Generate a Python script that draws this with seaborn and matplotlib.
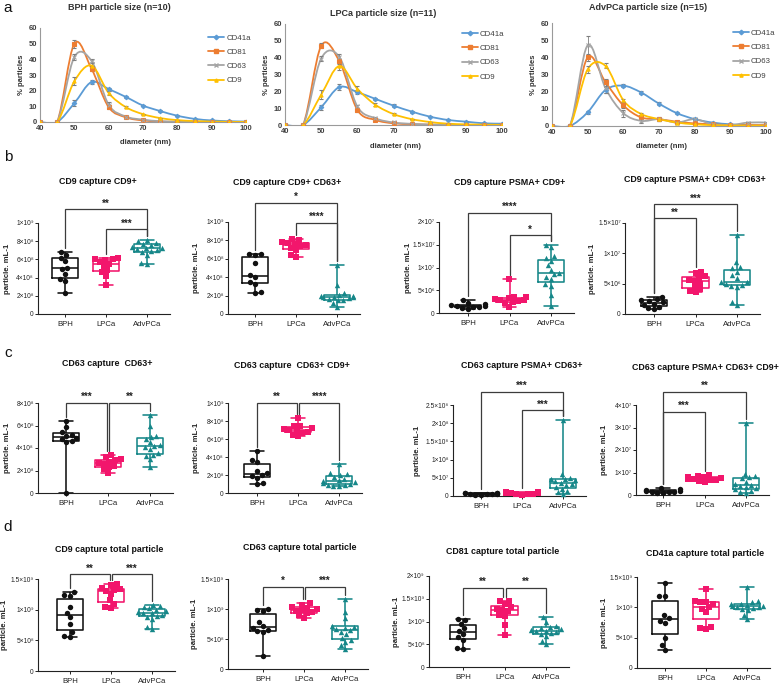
import numpy as np
import pandas as pd
import matplotlib
matplotlib.use("Agg")
import matplotlib.pyplot as plt
import seaborn as sns
from matplotlib.path import Path
from matplotlib.patches import PathPatch
from matplotlib.lines import Line2D

# ------------------------------------------------------------------ data: panel a
diameter = [40, 45, 50, 55, 60, 65, 70, 75, 80, 85, 90, 95, 100]
markers_names = ["CD41a", "CD81", "CD63", "CD9"]

bph_cd41a = [0, 0, 12, 25.5, 21, 16, 10.5, 7, 4, 2, 1, 0.5, 0.3]
bph_cd81 = [0, 0, 50, 34, 9.5, 3, 1, 0.3, 0.1, 0, 0, 0, 0]
bph_cd63 = [0, 0, 41.5, 39, 11, 3.5, 1.5, 0.5, 0.2, 0, 0, 0, 0]
bph_cd9 = [0, 0, 26, 36, 18.5, 9.5, 5, 2.5, 1.2, 0.6, 0.3, 0.1, 0]
bph_err41a = [0, 0, 2, 1.5, 1, 0.8, 0.6, 0.4, 0.3, 0.2, 0.1, 0, 0]
bph_err81 = [0, 0, 2.5, 1.5, 1, 0.5, 0.3, 0, 0, 0, 0, 0, 0]
bph_err63 = [0, 0, 2, 1.5, 1.5, 0.5, 0.3, 0, 0, 0, 0, 0, 0]
bph_err9 = [0, 0, 2.5, 2, 1, 0.8, 0.4, 0.3, 0, 0, 0, 0, 0]

lpca_cd41a = [0, 0, 10.5, 22.5, 19.5, 15.5, 11.5, 8, 5, 3, 2, 1, 0.8]
lpca_cd81 = [0, 0, 47, 38, 9, 3, 1, 0.5, 0.2, 0.1, 0, 0, 0]
lpca_cd63 = [0, 0, 39.5, 40.5, 11, 4, 1.5, 0.7, 0.3, 0.1, 0, 0, 0]
lpca_cd9 = [0, 0, 18, 35, 21.5, 12, 6.5, 3.5, 1.8, 0.8, 0.4, 0.2, 0.1]
lpca_err41a = [0, 0, 1.5, 2, 1, 0.8, 0.8, 0.6, 0.4, 0.3, 0.2, 0, 0]
lpca_err81 = [0, 0, 1.5, 1.5, 1, 0.5, 0.3, 0, 0, 0, 0, 0, 0]
lpca_err63 = [0, 0, 1.5, 1.5, 1, 0.5, 0.3, 0, 0, 0, 0, 0, 0]
lpca_err9 = [0, 0, 2.5, 2.5, 1.5, 1, 0.6, 0.3, 0, 0, 0, 0, 0]

adv_cd41a = [0, 0, 8, 21, 23.5, 19.5, 13, 7.5, 4, 2, 1, 0.5, 0.3]
adv_cd81 = [0, 0, 40, 25.5, 12, 5, 4, 2.5, 1.5, 1, 0.5, 0.5, 0.5]
adv_cd63 = [0, 0, 47, 22, 7.5, 3, 4, 2, 4, 1, 0.5, 2, 2]
adv_cd9 = [0, 0, 33, 35, 15, 7, 4, 2, 1, 0.5, 0.3, 0.2, 0.2]
adv_err41a = [0, 0, 1, 1.5, 1, 0.8, 0.7, 0.5, 0.4, 0.3, 0.2, 0, 0]
adv_err81 = [0, 0, 2, 2, 1.5, 1, 0.8, 0.5, 0.3, 0, 0, 0, 0]
adv_err63 = [0, 0, 5.5, 3, 2, 1, 1, 0.5, 0.5, 0.3, 0.2, 0.5, 0.5]
adv_err9 = [0, 0, 2, 1.5, 1, 0.8, 0.5, 0.3, 0, 0, 0, 0, 0]

a_titles = ["BPH particle size (n=10)", "LPCa particle size (n=11)", "AdvPCa particle size (n=15)"]

# ------------------------------------------------------------------ data: panels b-d
groups = ["BPH", "LPCa", "AdvPCa"]

b1_unit = 1e8
b1_bph = [2.3, 3.6, 3.8, 4.4, 4.9, 5.1, 5.8, 6.2, 6.5, 6.8]
b1_lpca = [3.2, 4.2, 4.6, 4.8, 5.3, 5.5, 5.7, 5.9, 6.0, 6.0, 6.1]
b1_adv = [5.5, 5.6, 6.5, 6.8, 6.9, 7.0, 7.1, 7.2, 7.3, 7.4, 7.6, 7.7, 7.8, 8.0, 8.1]

b2_unit = 1e8
b2_bph = [2.3, 2.4, 3.3, 3.5, 4.0, 4.2, 5.5, 6.4, 6.5, 6.5]
b2_lpca = [6.2, 6.4, 7.0, 7.2, 7.4, 7.5, 7.6, 7.7, 7.8, 8.0, 8.1]
b2_adv = [0.8, 1.2, 1.5, 1.5, 1.6, 1.7, 1.8, 1.8, 1.9, 2.0, 2.0, 2.1, 2.3, 3.1, 5.3]

b3_unit = 1e6
b3_bph = [0.9, 1.1, 1.3, 1.4, 1.5, 1.6, 1.7, 1.9, 2.3, 2.8]
b3_lpca = [1.4, 2.2, 2.4, 2.6, 2.8, 2.9, 3.0, 3.3, 3.5, 3.6, 7.5]
b3_adv = [1.5, 4.0, 6.0, 6.3, 7.5, 8.0, 8.5, 8.9, 9.5, 10.5, 11.5, 12.0, 12.5, 14.5, 15.0]

b4_unit = 1e6
b4_bph = [0.8, 1.0, 1.2, 1.5, 1.7, 1.9, 2.1, 2.3, 2.5, 2.8]
b4_lpca = [3.6, 3.8, 4.1, 4.5, 5.0, 5.4, 5.6, 6.0, 6.2, 6.7, 7.0]
b4_adv = [1.5, 1.9, 4.5, 4.6, 4.8, 5.0, 5.2, 5.3, 6.0, 6.5, 7.0, 7.5, 7.8, 8.5, 13.0]

c1_unit = 1e8
c1_bph = [0.0, 4.5, 4.6, 4.8, 4.9, 5.1, 5.2, 5.4, 5.9, 6.4]
c1_lpca = [1.8, 2.1, 2.3, 2.4, 2.6, 2.7, 2.8, 2.9, 3.0, 3.2, 3.4]
c1_adv = [2.3, 3.0, 3.3, 3.4, 3.6, 3.9, 4.1, 4.2, 4.3, 4.5, 4.8, 5.0, 5.1, 6.0, 6.9]

c2_unit = 1e8
c2_bph = [1.0, 1.1, 1.7, 1.9, 2.0, 2.2, 2.4, 3.5, 3.7, 4.7]
c2_lpca = [6.3, 6.5, 6.7, 6.8, 6.9, 7.0, 7.1, 7.2, 7.4, 7.5, 8.3]
c2_adv = [0.8, 0.8, 0.9, 0.9, 1.0, 1.1, 1.2, 1.3, 1.4, 1.6, 1.8, 2.0, 2.1, 2.2, 3.2]

c3_unit = 1e7
c3_bph = [0.3, 0.4, 0.5, 0.5, 0.6, 0.6, 0.7, 0.7, 0.8, 0.9]
c3_lpca = [0.4, 0.5, 0.6, 0.6, 0.7, 0.7, 0.8, 0.8, 0.9, 1.0, 1.1]
c3_adv = [0.5, 1.0, 1.5, 2.0, 2.5, 3.0, 3.3, 3.6, 4.0, 4.4, 4.7, 4.8, 5.0, 6.0, 20.8]

c4_unit = 1e6
c4_bph = [0.8, 1.0, 1.2, 1.4, 1.5, 1.7, 1.9, 2.2, 2.6, 3.0]
c4_lpca = [5.8, 6.2, 6.5, 6.8, 7.0, 7.2, 7.5, 7.8, 8.2, 8.6, 9.0]
c4_adv = [1.0, 1.5, 2.0, 2.5, 3.0, 3.5, 4.0, 4.5, 5.0, 6.0, 7.5, 8.0, 8.5, 9.5, 32.0]

d1_unit = 1e9
d1_bph = [0.55, 0.57, 0.63, 0.76, 0.88, 0.95, 1.05, 1.22, 1.24, 1.28]
d1_lpca = [1.03, 1.05, 1.10, 1.15, 1.25, 1.30, 1.32, 1.33, 1.35, 1.40, 1.42]
d1_adv = [0.68, 0.72, 0.85, 0.88, 0.90, 0.92, 0.94, 0.95, 0.96, 0.98, 1.00, 1.02, 1.04, 1.06, 1.08]

d2_unit = 1e9
d2_bph = [0.22, 0.62, 0.63, 0.65, 0.68, 0.72, 0.78, 0.97, 0.99, 1.00]
d2_lpca = [0.85, 0.90, 0.93, 0.95, 0.97, 0.98, 1.00, 1.02, 1.04, 1.07, 1.10]
d2_adv = [0.34, 0.40, 0.45, 0.48, 0.52, 0.58, 0.62, 0.65, 0.67, 0.69, 0.70, 0.72, 0.85, 0.95, 1.16]

d3_unit = 1e9
d3_bph = [0.40, 0.42, 0.60, 0.65, 0.72, 0.80, 0.85, 0.95, 1.03, 1.05]
d3_lpca = [0.70, 0.93, 1.12, 1.15, 1.22, 1.25, 1.28, 1.32, 1.38, 1.44, 1.45]
d3_adv = [0.50, 0.58, 0.68, 0.72, 0.74, 0.77, 0.79, 0.80, 0.82, 0.84, 0.86, 0.88, 0.90, 1.00, 1.10]

d4_unit = 1e9
d4_bph = [0.30, 0.38, 0.50, 0.75, 0.78, 0.82, 0.88, 1.18, 1.19, 1.40]
d4_lpca = [0.65, 0.66, 0.68, 0.92, 0.98, 1.00, 1.05, 1.08, 1.09, 1.10, 1.30]
d4_adv = [0.80, 0.88, 0.95, 0.97, 0.99, 1.00, 1.01, 1.02, 1.03, 1.04, 1.05, 1.06, 1.08, 1.10, 1.34]

box_titles = {
    "b1": "CD9 capture CD9+", "b2": "CD9 capture CD9+ CD63+",
    "b3": "CD9 capture PSMA+ CD9+", "b4": "CD9 capture PSMA+ CD9+ CD63+",
    "c1": "CD63 capture  CD63+", "c2": "CD63 capture  CD63+ CD9+",
    "c3": "CD63 capture PSMA+ CD63+", "c4": "CD63 capture PSMA+ CD63+ CD9+",
    "d1": "CD9 capture total particle", "d2": "CD63 capture total particle",
    "d3": "CD81 capture total particle", "d4": "CD41a capture total particle",
}
b1_ticks = [0, 2e8, 4e8, 6e8, 8e8, 1e9]
b2_ticks = [0, 2e8, 4e8, 6e8, 8e8, 1e9]
b3_ticks = [0, 5e6, 1e7, 1.5e7, 2e7]
b4_ticks = [0, 5e6, 1e7, 1.5e7]
c1_ticks = [0, 2e8, 4e8, 6e8, 8e8]
c2_ticks = [0, 2e8, 4e8, 6e8, 8e8, 1e9]
c3_ticks = [0, 5e7, 1e8, 1.5e8, 2e8, 2.5e8]
c4_ticks = [0, 1e7, 2e7, 3e7, 4e7]
d1_ticks = [0, 5e8, 1e9, 1.5e9]
d2_ticks = [0, 5e8, 1e9, 1.5e9]
d3_ticks = [0, 5e8, 1e9, 1.5e9, 2e9]
d4_ticks = [0, 5e8, 1e9, 1.5e9]

# significance brackets: (group i, group j, height, label)
b1_sig = [(0, 2, 1.15e9, "**"), (1, 2, 0.93e9, "***")]
b2_sig = [(0, 2, 1.21e9, "*"), (1, 2, 0.99e9, "****")]
b3_sig = [(0, 2, 2.2e7, "****"), (1, 2, 1.71e7, "*")]
b4_sig = [(0, 1, 1.58e7, "**"), (0, 2, 1.81e7, "***")]
c1_sig = [(0, 1, 8.0e8, "***"), (1, 2, 8.0e8, "**")]
c2_sig = [(0, 1, 1.0e9, "**"), (1, 2, 1.0e9, "****")]
c3_sig = [(0, 2, 2.86e8, "***"), (1, 2, 2.36e8, "***")]
c4_sig = [(0, 2, 4.58e7, "**"), (0, 1, 3.69e7, "***")]
d1_sig = [(0, 1, 1.58e9, "**"), (1, 2, 1.58e9, "***")]
d2_sig = [(0, 1, 1.37e9, "*"), (1, 2, 1.37e9, "***")]
d3_sig = [(0, 1, 1.74e9, "**"), (1, 2, 1.74e9, "**")]
d4_sig = []

# ------------------------------------------------------------------ style
sns.set_theme(style="white")
plt.rcParams["font.family"] = ["Liberation Sans", "DejaVu Sans"]
plt.rcParams["axes.unicode_minus"] = False

W, H = 780, 685
fig = plt.figure(figsize=(W / 100, H / 100), dpi=100)
fig.patch.set_facecolor("white")

def px_axes(left, zero, right, top):
    return fig.add_axes([left / W, (H - zero) / H, (right - left) / W, (zero - top) / H])

# ------------------------------------------------------------------ panel a
a_colors = ["#5B9BD5", "#ED7D31", "#A5A5A5", "#FFC000"]
a_markers = ["D", "s", "x", "^"]
a_series = [
    ([bph_cd41a, bph_cd81, bph_cd63, bph_cd9], [bph_err41a, bph_err81, bph_err63, bph_err9]),
    ([lpca_cd41a, lpca_cd81, lpca_cd63, lpca_cd9], [lpca_err41a, lpca_err81, lpca_err63, lpca_err9]),
    ([adv_cd41a, adv_cd81, adv_cd63, adv_cd9], [adv_err41a, adv_err81, adv_err63, adv_err9]),
]
a_geom = [  # left, zero, right, top(60), title (x,y), xlabel y, legend x
    (40, 122, 246, 28, (119, 8), 143, 0.80),
    (285, 125, 502, 24, (383, 13), 146, 0.80),
    (552, 126, 766, 23, (648, 8), 147, 0.83),
]

def smooth_path(xs, ys):
    pts = np.column_stack([xs, ys]).astype(float)
    n = len(pts)
    verts = [pts[0]]
    codes = [Path.MOVETO]
    for i in range(n - 1):
        p0 = pts[i - 1] if i > 0 else pts[i]
        p1, p2 = pts[i], pts[i + 1]
        p3 = pts[i + 2] if i + 2 < n else pts[i + 1]
        verts += [p1 + (p2 - p0) / 6.0, p2 - (p3 - p1) / 6.0, p2]
        codes += [Path.CURVE4] * 3
    return Path(verts, codes)

for k, ((vals, errs), geom) in enumerate(zip(a_series, a_geom)):
    left, zero, right, top, tpos, xly, legx = geom
    ax = px_axes(left, zero, right, top)
    for name, v, e, c, m in zip(markers_names, vals, errs, a_colors, a_markers):
        ax.add_patch(PathPatch(smooth_path(diameter, v), fill=False, edgecolor=c, lw=1.3, zorder=2))
        ax.errorbar(diameter, v, yerr=e, fmt=m, ms=2.3, color=c, mew=0.8,
                    ecolor="#7f7f7f", elinewidth=0.6, capsize=1.3, capthick=0.6, zorder=3)
    ax.set_xlim(40, 100)
    ax.set_ylim(0, 60)
    ax.set_xticks(range(40, 101, 10))
    ax.set_yticks(range(0, 61, 10))
    ax.tick_params(length=0, labelsize=5.5, colors="#404040", pad=2)
    for lab in ax.get_xticklabels() + ax.get_yticklabels():
        lab.set_fontweight("bold")
    for s in ["top", "right"]:
        ax.spines[s].set_visible(False)
    for s in ["left", "bottom"]:
        ax.spines[s].set_color("#9a9a9a")
        ax.spines[s].set_linewidth(0.8)
    ax.set_facecolor("white")
    ax.set_ylabel("% particles", fontsize=5.5, fontweight="bold", color="#333333", labelpad=3)
    fig.text(((left + right) / 2 + 2) / W, 1 - xly / H, "diameter (nm)", ha="center", va="center",
             fontsize=5.5, fontweight="bold", color="#333333")
    fig.text(tpos[0] / W, 1 - tpos[1] / H, a_titles[k], ha="center", va="center",
             fontsize=6.5, fontweight="bold", color="#333333")
    handles = [Line2D([0], [0], color=c, marker=m, ms=2.3, lw=1.3) for c, m in zip(a_colors, a_markers)]
    ax.legend(handles, markers_names, loc="upper left", bbox_to_anchor=(legx, 0.97), frameon=False,
              fontsize=5.7, handlelength=2.0, handletextpad=0.3, labelspacing=0.85, borderaxespad=0,
              labelcolor="#404040")

# ------------------------------------------------------------------ panels b-d
pal = {"BPH": "#111111", "LPCa": "#F2166C", "AdvPCa": "#168789"}
mk = {"BPH": "o", "LPCa": "s", "AdvPCa": "^"}
sup = str.maketrans("0123456789", "⁰¹²³⁴⁵⁶⁷⁸⁹")

def sci(v):
    if v == 0:
        return "0"
    e = int(np.floor(np.log10(v) + 1e-9))
    m = round(v / 10 ** e, 2)
    return f"{m:g}×10{str(e).translate(sup)}"

box_panels = [
    # key, data, unit, ticks, sig, yaxis px, bph px, adv px, zero px, toptick px, title (x, y), ylabel x px
    ("b1", (b1_bph, b1_lpca, b1_adv), b1_unit, b1_ticks, b1_sig, 38, 65, 147, 314, 223, (98, 181), 8),
    ("b2", (b2_bph, b2_lpca, b2_adv), b2_unit, b2_ticks, b2_sig, 228, 255, 337, 314, 222, (287, 183), 196),
    ("b3", (b3_bph, b3_lpca, b3_adv), b3_unit, b3_ticks, b3_sig, 439, 468, 551, 313, 222, (510, 183), 408),
    ("b4", (b4_bph, b4_lpca, b4_adv), b4_unit, b4_ticks, b4_sig, 625, 654, 737, 314, 223, (695, 180), 592),
    ("c1", (c1_bph, c1_lpca, c1_adv), c1_unit, c1_ticks, c1_sig, 38, 66, 150, 493, 403, (107, 363), 8),
    ("c2", (c2_bph, c2_lpca, c2_adv), c2_unit, c2_ticks, c2_sig, 228, 257, 339, 493, 403, (292, 366), 197),
    ("c3", (c3_bph, c3_lpca, c3_adv), c3_unit, c3_ticks, c3_sig, 453, 481, 563, 496, 405, (522, 365), 417),
    ("c4", (c4_bph, c4_lpca, c4_adv), c4_unit, c4_ticks, c4_sig, 636, 663, 746, 495, 405, (705, 368), 605),
    ("d1", (d1_bph, d1_lpca, d1_adv), d1_unit, d1_ticks, d1_sig, 38, 70, 152, 671, 579, (109, 549), 5),
    ("d2", (d2_bph, d2_lpca, d2_adv), d2_unit, d2_ticks, d2_sig, 228, 263, 345, 669, 579, (300, 548), 195),
    ("d3", (d3_bph, d3_lpca, d3_adv), d3_unit, d3_ticks, d3_sig, 429, 463, 546, 667, 576, (503, 551), 396),
    ("d4", (d4_bph, d4_lpca, d4_adv), d4_unit, d4_ticks, d4_sig, 637, 665, 747, 668, 577, (705, 554), 604),
]

XHI = 2.55
for key, data, unit, ticks, sig, yax, bph_px, adv_px, zero, ttp, tpos, ylx in box_panels:
    sp = (adv_px - bph_px) / 2.0
    xlo = (yax - bph_px) / sp
    right = bph_px + XHI * sp
    ax = px_axes(yax, zero, right, ttp)
    df = pd.DataFrame({
        "group": np.repeat(groups, [len(d) for d in data]),
        "value": np.concatenate([np.asarray(d, float) * unit for d in data]),
    })
    sns.boxplot(data=df, x="group", y="value", hue="group", order=groups, hue_order=groups,
                palette=pal, fill=False, whis=(0, 100), width=0.64, linewidth=1.15,
                showfliers=False, legend=False, ax=ax)
    for g in groups:
        sns.swarmplot(data=df[df["group"] == g], x="group", y="value", order=groups,
                      color=pal[g], marker=mk[g], size=3.9, ax=ax, zorder=3, warn_thresh=1)
    for c in ax.collections:
        c.set_clip_on(False)
    for ln in ax.lines:
        ln.set_clip_on(False)
    top = ticks[-1]
    ax.set_xlim(xlo, XHI)
    ax.set_ylim(0, top)
    ax.set_yticks(ticks)
    ax.set_yticklabels([sci(t) for t in ticks])
    ax.set_xticks([0, 1, 2])
    ax.set_xticklabels(groups)
    ax.set_xlabel("")
    ax.set_ylabel("particle. mL-1", fontsize=5.6, fontweight="bold", color="#222222")
    ax.yaxis.set_label_coords((ylx - yax) / (right - yax), 0.5)
    ax.yaxis.label.set_verticalalignment("center")
    ax.tick_params(axis="y", length=2, width=0.7, labelsize=4.8, colors="#222222", pad=1,
                   left=True, direction="out")
    ax.tick_params(axis="x", length=2, width=0.7, labelsize=5.6, colors="#222222", pad=3,
                   bottom=True, direction="out")
    for s in ["top", "right"]:
        ax.spines[s].set_visible(False)
    for s in ["left", "bottom"]:
        ax.spines[s].set_color("#222222")
        ax.spines[s].set_linewidth(0.8)
    ax.set_facecolor("none")
    # brackets
    gmax = [max(d) * unit for d in data]
    gap = 0.045 * top
    shared = len(sig) == 2 and sig[0][1] == sig[1][0]
    for n_, (i, j, yb, txt) in enumerate(sig):
        xi, xj = float(i), float(j)
        if shared:
            if n_ == 0:
                xj -= 0.035
            else:
                xi += 0.035
        ax.plot([xi, xi, xj, xj], [gmax[i] + gap, yb, yb, gmax[j] + gap], color="#3c3c3c",
                lw=0.9, clip_on=False, solid_joinstyle="miter", zorder=4)
        ax.annotate(txt, ((xi + xj) / 2, yb), xytext=(0, 0.5), textcoords="offset points",
                    ha="center", va="bottom", fontsize=7, fontweight="bold", color="#222222",
                    annotation_clip=False)
    fig.text(tpos[0] / W, 1 - tpos[1] / H, box_titles[key], ha="center", va="center",
             fontsize=6.4, fontweight="bold", color="#111111")

# panel letters
for lab, (x, y) in {"a": (8, 8), "b": (8, 157), "c": (8, 353), "d": (8, 527)}.items():
    fig.text(x / W, 1 - y / H, lab, ha="center", va="center", fontsize=11, color="#111111")

fig.savefig("out.png", dpi=100, facecolor="white")
